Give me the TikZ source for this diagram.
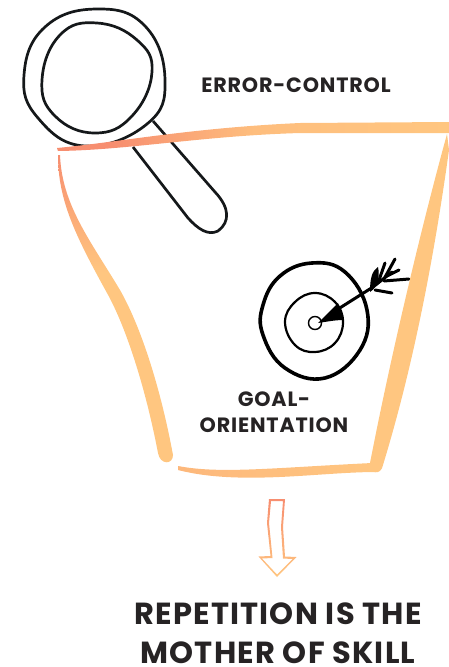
\documentclass[tikz,border=0pt]{standalone}
\usepackage{fontspec}
\setmainfont{Poppins}
\newfontfamily\labelfont[LetterSpace=4]{Poppins}
\usetikzlibrary{positioning}
\definecolor{inkblack}{HTML}{15181A}
\definecolor{labeltext}{HTML}{262324}
\definecolor{salmon}{HTML}{F78E70}
\definecolor{peach}{HTML}{FFC680}
\pgfdeclareverticalshading{leftfade}{100bp}{color(0bp)=(peach); color(25bp)=(peach); color(56bp)=(peach); color(75bp)=(salmon); color(100bp)=(salmon)}
\pgfdeclarehorizontalshading{topfade}{100bp}{color(0bp)=(salmon); color(25bp)=(salmon); color(32bp)=(salmon); color(50bp)=(peach!85!salmon); color(75bp)=(peach); color(100bp)=(peach)}

\begin{document}
\begin{tikzpicture}[
  x=1pt, y=-1pt,
  lens/.style={draw=inkblack, line width=2.7pt, line join=round},
  ink/.style={draw=black, line cap=round, line join=round},
  lbl/.style={text=labeltext, align=center, inner sep=0pt, font=\labelfont\bfseries\fontsize{20.7}{26}\selectfont},
  title/.style={text=labeltext, align=center, inner sep=0pt, font=\labelfont\bfseries\fontsize{30.5}{38.5}\selectfont}
]
\useasboundingbox (0,0) rectangle (449,667);

% magnifier
\draw[lens] plot[smooth cycle, tension=0.75] coordinates {(97,9) (145,26) (165,80) (147,124) (85,146) (38,118) (24,75) (45,27)};
\draw[lens] plot[smooth cycle, tension=0.75] coordinates {(97,23) (137,40) (152,72) (132,116) (95,133) (55,116) (42,80) (60,35)};
\draw[lens] (153,121) -- (215,192) .. controls (230,208) and (230,222) .. (218,231) .. controls (208,236) and (198,229) .. (188,218) -- (133,147);

% target
\draw[draw=black, line width=3.6pt] plot[smooth cycle, tension=0.7] coordinates {(312,263) (345,272) (367,310) (360,350) (325,378) (285,368) (263,335) (263,305) (280,276)};
\draw[draw=black, line width=2.2pt] plot[smooth cycle, tension=0.7] coordinates {(315,293) (335,302) (343,322) (335,343) (315,352) (295,345) (285,322) (295,302)};
\draw[draw=black, line width=1.4pt, fill=white] (315,323) circle (6.5);
\fill[black] (318,323) -- (338,303) -- (343,320) .. controls (335,320) and (325,322) .. cycle;
\draw[ink, line width=3pt] (335,311) -- (373,287) -- (392,272);
\foreach \fromx/\fromy/\tipx/\tipy in {378/283/385/263, 384/279/395/259, 387/276/399/270, 384/281/409/279, 375/290/392/293} {
  \draw[ink, line width=3pt] (\fromx,\fromy) -- (\tipx,\tipy);
}
\fill[black] (370,292) .. controls (370,278) and (372,271) .. (378,267) .. controls (380,276) and (378,287) .. cycle;

% funnel
\shade[shading=topfade]
  (57,148) .. controls (120,142) and (190,128) .. (300,123) -- (449,122) -- (449,133) -- (300,133) .. controls (200,136) and (130,150) .. (58,151) -- cycle;
\shade[shading=leftfade]
  (58,155) .. controls (58,200) and (75,235) .. (107,293) .. controls (125,325) and (145,385) .. (158,453) .. controls (160,465) and (173,465) .. (173,455) .. controls (160,385) and (140,325) .. (120,290) .. controls (90,240) and (62,205) .. (60,155) -- cycle;
\shade[left color=peach!75!salmon, right color=peach]
  (178,466) .. controls (220,474) and (270,468) .. (372,463) -- (376,472) .. controls (320,472) and (240,486) .. (178,470) -- cycle;
\fill[peach]
  (447,134) .. controls (422,225) and (392,350) .. (370,463) .. controls (369,474) and (381,476) .. (383,465) .. controls (412,370) and (433,265) .. (449,150) -- cycle;

% down arrow
\shade[top color=salmon, bottom color=peach, even odd rule]
  (269,499) -- (285,499) -- (283,527) -- (285,556.5) -- (296.5,557) -- (277,577) -- (258.5,556.5) -- (270.5,556) -- (267,523) -- cycle
  (271,501) -- (283,501) -- (281,527) -- (283,558.5) -- (292.5,559) -- (277,574.5) -- (262,558.5) -- (272.5,558) -- (269,523) -- cycle;

% labels
\node[lbl] (errorcontrol) at (296,85) {ERROR-CONTROL};
\node[lbl] (goalorient) at (274,412) {GOAL-\\ORIENTATION};
\node[title] (skill) at (278,633) {REPETITION IS THE\\MOTHER OF SKILL};
\end{tikzpicture}
\end{document}
